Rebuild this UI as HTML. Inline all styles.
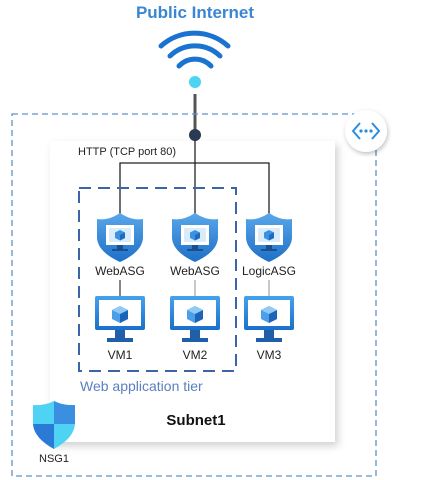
<!DOCTYPE html>
<html><head><style>
body{margin:0;width:423px;height:480px;background:#fff;overflow:hidden;font-family:"Liberation Sans",sans-serif;position:relative}
</style></head><body>
<svg width="423" height="480" style="position:absolute;left:0;top:0">
<defs>
<filter id="sh" x="-10%" y="-10%" width="130%" height="130%"><feDropShadow dx="3" dy="4" stdDeviation="4" flood-color="#000" flood-opacity="0.18"/></filter>
<filter id="sh2"><feDropShadow dx="1" dy="2" stdDeviation="2.5" flood-color="#000" flood-opacity="0.25"/></filter>
<linearGradient id="sg" x1="0" y1="0" x2="0" y2="1"><stop offset="0" stop-color="#5aa7ea"/><stop offset="1" stop-color="#1e6fc8"/></linearGradient>
<linearGradient id="mg" x1="0" y1="0" x2="0" y2="1"><stop offset="0" stop-color="#45a2ea"/><stop offset="1" stop-color="#1b6fca"/></linearGradient>
<g id="shield">
<path d="M0,-23 Q12,-15 23,-17 L23,2 Q22,16 0,26 Q-22,16 -23,2 L-23,-17 Q-12,-15 0,-23Z" fill="url(#sg)"/>
<rect x="-14" y="-11" width="28" height="20" fill="#fff"/>
<rect x="-11" y="-8" width="22" height="14" fill="#d8ecfb"/>
<path d="M0,-6 L5,-3.5 L5,2 L0,4.5 L-5,2 L-5,-3.5Z" fill="#3c92e0"/>
<path d="M0,-1 L5,-3.5 L5,2 L0,4.5Z" fill="#1e6ac0"/>
<rect x="-3" y="9" width="6" height="4" fill="#1a4f8f"/><rect x="-8" y="13" width="16" height="2" fill="#1a4f8f"/>
</g>
<g id="vm">
<rect x="-25" y="-22" width="50" height="34" rx="2" fill="url(#mg)"/>
<rect x="-21" y="-18" width="42" height="26" fill="#fff"/>
<path d="M0,-12 L8,-8 L8,1 L0,5 L-8,1 L-8,-8Z" fill="#4a9fe8"/>
<path d="M0,-4 L8,-8 L8,1 L0,5Z" fill="#1c64b8"/>
<path d="M0,-4 L-8,-8 L0,-12 L8,-8Z" fill="#8fcaf5"/>
<rect x="-5" y="12" width="10" height="8" fill="#1f5fa8"/>
<rect x="-13" y="20" width="26" height="4" fill="#1f5fa8"/>
</g>
</defs>
<text x="195" y="18" text-anchor="middle" font-size="17" font-weight="bold" fill="#3a86d4">Public Internet</text>
<g fill="none" stroke="#1a73d0" stroke-width="5" stroke-linecap="round">
<path d="M161,46 A50,50 0 0 1 228,46"/>
<path d="M170,56 A36,36 0 0 1 220,56"/>
<path d="M179,66 A22,22 0 0 1 211,66"/>
</g>
<circle cx="195" cy="82" r="6" fill="#4fd3f5"/>
<line x1="195" y1="94" x2="195" y2="134" stroke="#555" stroke-width="3"/>
<rect x="12" y="114" width="364" height="362" fill="none" stroke="#5d93c8" stroke-width="1.3" stroke-dasharray="6,4"/>
<rect x="50" y="141" width="285" height="301" fill="#fff" filter="url(#sh)"/>
<circle cx="366" cy="131" r="21" fill="#fff" filter="url(#sh2)"/>
<g fill="none" stroke="#2a8ee0" stroke-width="2"><path d="M360,123 L353,131 L360,139 M372,123 L379,131 L372,139"/></g>
<circle cx="361" cy="131" r="1.6" fill="#2a8ee0"/><circle cx="366" cy="131" r="1.6" fill="#2a8ee0"/><circle cx="371" cy="131" r="1.6" fill="#2a8ee0"/>
<circle cx="195" cy="135" r="6" fill="#2a3a52"/>
<text x="78" y="155" font-size="11" fill="#222">HTTP (TCP port 80)</text>
<g stroke="#222" stroke-width="1.3" fill="none">
<line x1="195" y1="140" x2="195" y2="214"/>
<path d="M120,214 L120,163 L269,163 L269,214"/>
<line x1="120" y1="280" x2="120" y2="297" stroke="#444"/>
<line x1="195" y1="280" x2="195" y2="297" stroke="#aaa"/>
<line x1="269" y1="280" x2="269" y2="297" stroke="#aaa"/>
</g>
<rect x="79" y="188" width="157" height="183" fill="none" stroke="#3c64a8" stroke-width="2" stroke-dasharray="12,7"/>
<use href="#shield" x="120" y="236"/>
<use href="#shield" x="195" y="236"/>
<use href="#shield" x="269" y="236"/>
<g font-size="12" fill="#222" text-anchor="middle">
<text x="120" y="275">WebASG</text><text x="195" y="275">WebASG</text><text x="269" y="275">LogicASG</text>
<text x="120" y="359">VM1</text><text x="195" y="359">VM2</text><text x="269" y="359">VM3</text>
</g>
<use href="#vm" x="120" y="318"/>
<use href="#vm" x="195" y="318"/>
<use href="#vm" x="269" y="318"/>
<text x="80" y="391" font-size="14" fill="#5b7fbf">Web application tier</text>
<text x="196" y="425" font-size="15" font-weight="bold" fill="#111" text-anchor="middle">Subnet1</text>
<path d="M54,401 Q64,406 75,405 L75,424 Q74,438 54,449 Q34,438 33,424 L33,405 Q44,406 54,401Z" fill="#4fd3f5"/>
<path d="M54,401 Q64,406 75,405 L75,424 L54,424Z" fill="#3a8fe0"/>
<path d="M54,424 L33,424 Q34,438 54,449Z" fill="#2a7ad6"/>
<text x="54" y="462" font-size="11" fill="#222" text-anchor="middle">NSG1</text>
</svg>
</body></html>
